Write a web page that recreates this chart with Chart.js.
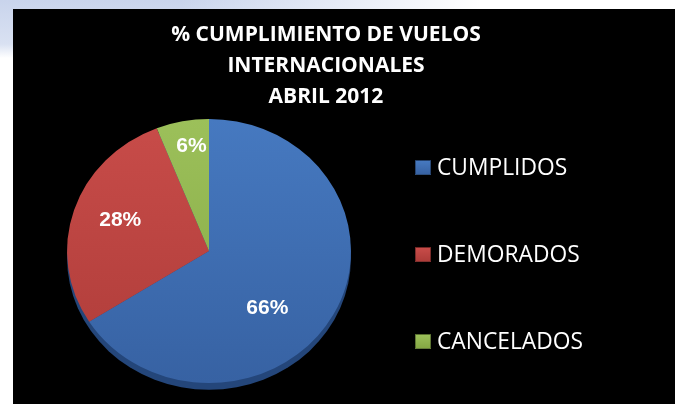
<!DOCTYPE html>
<html>
<head>
<meta charset="utf-8">
<script src="https://cdn.jsdelivr.net/npm/chart.js@4.4.1/dist/chart.umd.min.js"></script>
<style>
  html, body { margin: 0; padding: 0; }
  body {
    width: 675px; height: 404px; overflow: hidden; position: relative;
    background:
      linear-gradient(to right, rgba(255,255,255,0) 0px, rgba(255,255,255,0) 180px, #fff 480px),
      linear-gradient(to bottom, #c9d4ec 0px, #d9e1f2 44px, #ffffff 58px);
  }
  #panel { position: absolute; left: 13px; top: 9px; width: 662px; height: 395px; background: #000; }
  #chartBox { position: absolute; left: 0; top: 0; width: 662px; height: 395px; }
  #title {
    position: absolute; left: 113px; top: 9px; width: 400px;
    color: #fff; text-align: center;
    font: bold 21px/31px "Open Sans", sans-serif;
  }
  .legend-item {
    position: absolute; left: 402px; height: 26px;
    color: #fff; font: 22.8px/26px "Open Sans", sans-serif; white-space: nowrap;
  }
  .legend-box {
    position: absolute; left: 0; top: 6px; width: 14px; height: 13px;
    border: 1px solid rgba(0,0,0,0.35);
  }
  .legend-text { position: absolute; left: 22px; top: 0; }
</style>
</head>
<body>
<div id="panel">
  <div id="chartBox"><canvas id="myChart"></canvas></div>
  <div id="title">% CUMPLIMIENTO DE VUELOS<br>INTERNACIONALES<br>ABRIL 2012</div>
  <div id="legend"></div>
</div>
<script>
  // data
  const categories = ["CUMPLIDOS", "DEMORADOS", "CANCELADOS"];
  const percentages = [66, 28, 6];

  // slice colours: [light top, dark bottom]
  const sliceColors = [
    ["#4679c0", "#3762a3"],
    ["#c84c49", "#ae3c39"],
    ["#9cc05a", "#85a844"],
  ];

  // the pie in the picture is a slightly flattened disc
  const stretchX = 1.036;
  const stretchY = 0.964;
  // where the % labels sit: fraction of radius, and a small turn in degrees
  const labelRadius = [0.59, 0.67, 0.81];
  const labelTurn = [17, 3, 2];

  function sliceFill(context) {
    const chart = context.chart;
    const area = chart.chartArea;
    const c = sliceColors[context.dataIndex];
    if (!area) return c[0];
    const g = chart.ctx.createLinearGradient(0, area.top, 0, area.bottom);
    g.addColorStop(0, c[0]);
    g.addColorStop(1, c[1]);
    return g;
  }

  // squash the pie into an oval, give it an edge, and write the % labels
  const ovalPie = {
    id: "ovalPie",
    beforeDatasetsDraw(chart) {
      const arc = chart.getDatasetMeta(0).data[0];
      const ctx = chart.ctx;
      ctx.save();
      ctx.translate(arc.x, arc.y);
      ctx.scale(stretchX, stretchY);
      ctx.translate(-arc.x, -arc.y);

      ctx.save();
      ctx.shadowColor = "rgba(0,0,0,0.9)";
      ctx.shadowBlur = 6;
      ctx.fillStyle = "#24467a";
      ctx.beginPath();
      ctx.arc(arc.x, arc.y + 7, arc.outerRadius, 0, Math.PI * 2);
      ctx.fill();
      ctx.restore();
    },
    afterDatasetsDraw(chart) {
      const ctx = chart.ctx;
      ctx.restore();

      ctx.save();
      ctx.fillStyle = "#fff";
      ctx.font = "bold 21px 'Liberation Sans', Arial, sans-serif";
      ctx.textAlign = "center";
      ctx.textBaseline = "middle";
      chart.getDatasetMeta(0).data.forEach((el, i) => {
        const mid = (el.startAngle + el.endAngle) / 2 + (labelTurn[i] * Math.PI) / 180;
        const r = el.outerRadius * labelRadius[i];
        const x = el.x + Math.cos(mid) * r * stretchX;
        const y = el.y + Math.sin(mid) * r * stretchY;
        ctx.fillText(percentages[i] + "%", x, y + 1);
      });
      ctx.restore();
    },
  };

  const config = {
    type: "pie",
    data: {
      labels: categories,
      datasets: [
        {
          data: percentages,
          backgroundColor: sliceFill,
          borderWidth: 0,
          clip: false,
        },
      ],
    },
    options: {
      responsive: true,
      maintainAspectRatio: false,
      animation: false,
      layout: { padding: { left: 59, right: 329, top: 105, bottom: 16 } },
      plugins: {
        legend: { display: false },
        tooltip: { enabled: false },
      },
    },
    plugins: [ovalPie],
  };

  const myChart = new Chart(document.getElementById("myChart"), config);

  // html legend built from the chart's own labels
  const legend = document.getElementById("legend");
  myChart.data.labels.forEach((label, i) => {
    const item = document.createElement("div");
    item.className = "legend-item";
    item.style.top = 145 + i * 87 + "px";
    const box = document.createElement("span");
    box.className = "legend-box";
    box.style.background =
      "linear-gradient(to bottom, " + sliceColors[i][0] + ", " + sliceColors[i][1] + ")";
    const text = document.createElement("span");
    text.className = "legend-text";
    text.textContent = label;
    item.appendChild(box);
    item.appendChild(text);
    legend.appendChild(item);
  });
</script>
</body>
</html>
